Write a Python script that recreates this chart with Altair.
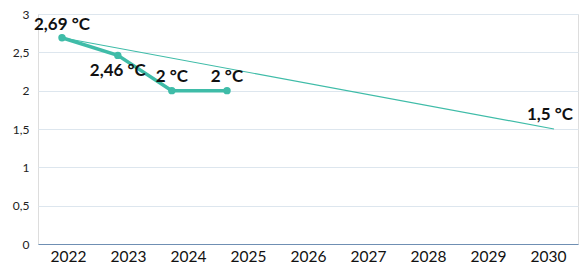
import altair as alt
import pandas as pd

# Observed / projected path (thick line)
path_years = [2021.9, 2022.83, 2023.73, 2024.65]
path_values = [2.69, 2.46, 2.0, 2.0]
path_labels = ["2,69 °C", "2,46 °C", "2 °C", "2 °C"]
path_dy = [-13, 16, -14, -14]

# Target trajectory (thin line)
target_years = [2021.9, 2030.1]
target_values = [2.69, 1.5]
target_labels = ["", "1,5 °C"]

x_ticks = [2022, 2023, 2024, 2025, 2026, 2027, 2028, 2029, 2030]
y_ticks = [0, 0.5, 1, 1.5, 2, 2.5, 3]

TEAL = "#3fbca8"
FONT = "Lato"

path_df = pd.DataFrame({"year": path_years, "value": path_values,
                        "label": path_labels, "dy": path_dy})
target_df = pd.DataFrame({"year": target_years, "value": target_values,
                          "label": target_labels})

x = alt.X("year:Q",
          scale=alt.Scale(domain=[2021.5, 2030.5], nice=False, zero=False),
          axis=alt.Axis(values=x_ticks, format="d", title=None, grid=False,
                        ticks=False, domain=True, domainColor="#6f8fb3",
                        domainWidth=1.2, labelFontSize=15.5, labelColor="#111111",
                        labelPadding=5, labelFont=FONT, labelFlush=False))
y = alt.Y("value:Q",
          scale=alt.Scale(domain=[0, 3], nice=False),
          axis=alt.Axis(values=y_ticks, title=None, grid=True,
                        gridColor="#dde6ee", gridWidth=1, ticks=False,
                        domain=False, labelFontSize=12, labelColor="#222222",
                        labelPadding=9, labelFont=FONT,
                        labelExpr="replace(format(datum.value, '~g'), '.', ',')"))

target_line = alt.Chart(target_df).mark_line(color=TEAL, strokeWidth=1.2).encode(x=x, y=y)

path_line = alt.Chart(path_df).mark_line(color=TEAL, strokeWidth=3.5).encode(x=x, y=y)
path_pts = alt.Chart(path_df).mark_circle(color=TEAL, size=55, opacity=1).encode(x=x, y=y)

label_layers = []
for i in range(len(path_years)):
    sub = path_df.iloc[[i]]
    label_layers.append(
        alt.Chart(sub).mark_text(fontSize=17, fontWeight="bold", font=FONT,
                                 color="#111111", dy=int(path_dy[i]),
                                 baseline="middle")
        .encode(x=x, y=y, text="label:N"))

target_text = alt.Chart(target_df[target_df["label"] != ""]).mark_text(
    fontSize=17, fontWeight="bold", font=FONT, color="#111111", dy=-14,
    baseline="middle", dx=-4).encode(x=x, y=y, text="label:N")

chart = alt.layer(target_line, path_line, path_pts, *label_layers, target_text).properties(
    width=540, height=230,
    autosize=alt.AutoSizeParams(type="none"),
    padding={"left": 30, "top": 6, "right": 2, "bottom": 19},
).configure_view(stroke=None).configure(background="white")

chart.save("out.html", embed_options={"renderer": "svg", "actions": False})
